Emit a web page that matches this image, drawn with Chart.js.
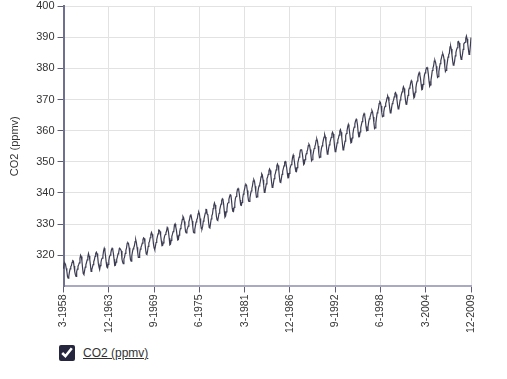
<!DOCTYPE html>
<html>
<head>
<meta charset="utf-8">
<script src="https://cdn.jsdelivr.net/npm/chart.js@4.4.1/dist/chart.umd.min.js"></script>
<style>
  html, body { margin: 0; padding: 0; background: #fff; }
  body { width: 507px; height: 379px; overflow: hidden; font-family: "Liberation Sans", Arial, sans-serif; }
  .chart__container { position: relative; width: 507px; height: 335px; }
  .legend { position: absolute; left: 59px; top: 345px; display: flex; align-items: center; }
  .legend input { width: 16px; height: 16px; margin: 0 8px 0 0; accent-color: #26263f; }
  .legend label { font-size: 12px; color: #333; text-decoration: underline; cursor: pointer; }
</style>
</head>
<body>
<div class="chart__container">
  <canvas id="co2Chart"></canvas>
</div>
<div class="legend">
  <input type="checkbox" id="co2Toggle" checked>
  <label for="co2Toggle">CO2 (ppmv)</label>
</div>
<script>
// Mauna Loa monthly CO2, 3-1958 .. 12-2009 (one row per year)
const startYear = 1958;
const startMonth = 3;
const seriesName = 'CO2 (ppmv)';
const co2 = [
  315.71, 317.45, 317.50, 317.10, 315.86, 314.93, 313.20, 312.66, 313.33, 314.67,
  315.62, 316.38, 316.71, 317.72, 318.29, 318.15, 316.54, 314.80, 313.84, 313.26, 314.80, 315.58,
  316.43, 316.97, 317.58, 319.02, 320.03, 319.59, 318.18, 315.91, 314.16, 313.83, 315.00, 316.19,
  316.93, 317.70, 318.54, 319.48, 320.58, 319.77, 318.57, 316.79, 314.80, 315.38, 316.10, 317.01,
  317.94, 318.56, 319.68, 320.63, 321.01, 320.55, 319.58, 317.40, 316.26, 315.42, 316.69, 317.69,
  318.74, 319.08, 319.86, 321.39, 322.25, 321.47, 319.74, 317.77, 316.21, 315.99, 317.12, 318.31,
  319.57, 320.07, 320.73, 321.77, 322.25, 321.89, 320.44, 318.70, 316.70, 316.79, 317.79, 318.71,
  319.44, 320.44, 320.89, 322.13, 322.16, 321.87, 321.39, 318.81, 317.81, 317.30, 318.87, 319.42,
  320.62, 321.59, 322.39, 323.87, 324.01, 323.75, 322.39, 320.37, 318.64, 318.10, 319.79, 321.08,
  322.07, 322.50, 323.04, 324.42, 325.00, 324.09, 322.55, 320.92, 319.31, 319.31, 320.72, 321.96,
  322.57, 323.15, 323.89, 325.02, 325.57, 325.36, 324.14, 322.03, 320.41, 320.25, 321.31, 322.84,
  324.00, 324.42, 325.64, 326.66, 327.34, 326.76, 325.88, 323.67, 322.38, 321.78, 322.85, 324.11,
  325.03, 325.99, 326.87, 328.13, 328.07, 327.66, 326.35, 324.69, 323.10, 323.16, 323.98, 325.13,
  326.17, 326.68, 327.18, 327.78, 328.92, 328.57, 327.34, 325.46, 323.36, 323.57, 324.80, 326.01,
  326.77, 327.63, 327.75, 329.72, 330.07, 329.09, 328.05, 326.32, 324.93, 325.06, 326.50, 327.55,
  328.54, 329.56, 330.30, 331.50, 332.48, 332.07, 330.87, 329.31, 327.51, 327.18, 328.16, 328.64,
  329.35, 330.71, 331.48, 332.65, 333.16, 332.06, 330.99, 329.17, 327.41, 327.20, 328.33, 329.50,
  330.68, 331.41, 331.85, 333.29, 333.91, 333.40, 331.78, 329.88, 328.57, 328.46, 329.26, 330.97,
  331.60, 332.60, 333.57, 334.72, 334.68, 333.17, 332.96, 330.67, 328.97, 328.77, 330.18, 331.65,
  332.69, 333.23, 334.97, 336.03, 336.82, 336.13, 334.66, 332.47, 331.34, 331.17, 332.29, 333.50,
  334.58, 335.55, 336.40, 337.57, 338.14, 337.81, 336.35, 334.11, 332.24, 332.59, 333.92, 334.82,
  336.65, 336.86, 337.95, 338.83, 339.46, 339.30, 337.61, 335.21, 334.12, 334.03, 335.35, 336.69,
  338.33, 338.87, 339.93, 341.10, 341.43, 340.90, 339.50, 337.75, 336.08, 335.98, 336.95, 338.25,
  339.62, 340.42, 341.33, 342.53, 342.74, 342.43, 340.81, 338.86, 337.40, 337.30, 338.40, 339.63,
  340.63, 341.45, 342.39, 343.83, 344.28, 343.78, 342.19, 340.33, 338.63, 338.77, 340.06, 341.39,
  342.28, 342.77, 343.79, 345.14, 346.14, 345.75, 344.28, 342.46, 340.16, 340.37, 341.71, 342.92,
  344.57, 345.14, 345.96, 347.09, 347.72, 347.21, 345.55, 343.61, 341.75, 341.94, 343.32, 344.59,
  345.74, 346.39, 347.42, 348.74, 349.34, 348.80, 347.29, 345.07, 343.48, 343.35, 344.67, 345.94,
  346.98, 347.80, 348.67, 349.93, 350.10, 349.52, 348.18, 346.38, 344.87, 344.92, 346.27, 347.74,
  348.53, 349.09, 349.81, 351.39, 352.16, 351.30, 349.77, 348.14, 346.90, 346.84, 348.16, 349.59,
  350.51, 351.51, 352.49, 353.78, 353.92, 353.78, 352.54, 350.74, 349.12, 349.38, 350.69, 351.86,
  352.64, 353.31, 353.89, 355.17, 355.67, 355.28, 353.93, 352.13, 350.34, 350.66, 352.09, 353.28,
  354.28, 354.92, 355.59, 356.90, 357.31, 356.62, 355.06, 352.84, 351.34, 351.50, 352.79, 354.21,
  355.14, 355.91, 357.01, 357.91, 358.69, 357.98, 356.37, 354.29, 352.47, 352.82, 354.31, 355.44,
  356.23, 357.03, 357.86, 358.95, 359.52, 358.95, 357.39, 355.04, 353.24, 353.47, 354.70, 356.09,
  356.94, 357.64, 358.54, 359.82, 360.31, 359.51, 357.90, 355.87, 353.86, 354.15, 355.34, 356.63,
  358.38, 359.08, 359.92, 361.23, 361.97, 361.07, 359.40, 357.54, 356.08, 356.23, 357.65, 358.97,
  360.41, 361.12, 362.17, 363.15, 363.63, 363.15, 361.88, 359.49, 358.01, 358.04, 359.61, 361.00,
  361.95, 362.89, 363.82, 364.98, 365.47, 364.95, 363.49, 361.31, 359.97, 360.07, 361.23, 362.73,
  363.75, 364.29, 364.96, 365.82, 366.51, 366.04, 364.41, 362.50, 360.64, 360.88, 362.51, 364.20,
  365.72, 366.26, 367.18, 368.65, 369.28, 369.02, 367.91, 365.80, 364.47, 364.64, 365.96, 367.21,
  367.82, 368.73, 369.40, 370.49, 371.15, 370.68, 369.26, 367.41, 365.71, 365.79, 367.39, 368.65,
  369.24, 369.78, 370.82, 371.96, 372.25, 371.63, 370.16, 368.44, 366.96, 367.15, 368.35, 369.83,
  370.66, 371.69, 372.47, 373.24, 374.11, 373.55, 371.87, 369.98, 368.48, 368.44, 370.04, 371.32,
  372.93, 373.66, 374.15, 375.25, 376.04, 375.62, 374.25, 372.03, 370.52, 370.81, 372.34, 373.75,
  375.14, 375.93, 377.01, 378.08, 378.65, 377.98, 376.77, 374.88, 373.11, 373.23, 374.86, 376.13,
  377.79, 378.55, 379.28, 380.08, 380.28, 379.73, 378.04, 375.88, 374.29, 374.66, 376.17, 377.64,
  379.30, 380.08, 380.75, 382.33, 382.57, 381.93, 380.68, 378.54, 377.08, 377.34, 378.95, 380.26,
  381.52, 382.45, 383.36, 384.31, 384.68, 384.06, 382.87, 380.78, 378.98, 379.36, 380.64, 382.09,
  383.57, 384.37, 384.83, 386.86, 387.11, 386.18, 384.31, 382.48, 380.98, 381.20, 382.34, 384.02,
  385.05, 385.97, 386.60, 388.48, 388.65, 388.09, 386.47, 383.96, 382.85, 383.26, 384.49, 386.05,
  387.84, 388.13, 388.37, 389.56, 390.38, 389.47, 387.90, 386.17, 384.47, 384.75, 387.20, 389.90
];

// "month-year" category labels, one per value
const monthLabels = co2.map((_, i) => {
  const m = (startMonth - 1 + i) % 12 + 1;
  const y = startYear + Math.floor((startMonth - 1 + i) / 12);
  return m + '-' + y;
});
const labelEvery = 69;
const yMin = 310, yMax = 400, yStep = 10;

const tickFont = { family: '"Liberation Sans", Arial, sans-serif', size: 11, lineHeight: 1 };

const chart = new Chart(document.getElementById('co2Chart'), {
  type: 'line',
  data: {
    labels: monthLabels,
    datasets: [{
      label: seriesName,
      data: co2,
      borderColor: '#3b3b52',
      borderWidth: 1.2,
      pointRadius: 0,
      tension: 0,
      fill: false,
    }],
  },
  options: {
    responsive: true,
    maintainAspectRatio: false,
    animation: false,
    layout: { padding: { left: 4, right: 36, top: 6, bottom: 0 } },
    plugins: {
      legend: { display: false },
      tooltip: { enabled: false },
    },
    scales: {
      x: {
        type: 'category',
        offset: false,
        border: { color: '#a9a9c2', width: 2 },
        grid: {
          color: (ctx) => ctx.index % labelEvery === 0 ? '#e2e2e2' : 'rgba(0,0,0,0)',
          tickColor: (ctx) => ctx.index % labelEvery === 0 ? '#5d5d78' : 'rgba(0,0,0,0)',
          tickLength: 6,
        },
        ticks: {
          autoSkip: false,
          minRotation: 90,
          maxRotation: 90,
          padding: 2,
          color: '#333',
          font: { ...tickFont, size: 10.5 },
          callback: (v, i) => i % labelEvery === 0 ? monthLabels[i] : '',
        },
      },
      y: {
        min: yMin,
        max: yMax,
        afterBuildTicks: (scale) => {
          scale.ticks = scale.ticks.filter(t => t.value !== yMin);
        },
        border: { color: '#6f6f8f', width: 2 },
        grid: { color: '#e2e2e2', tickColor: '#5d5d78', tickLength: 6 },
        ticks: { stepSize: yStep, padding: 3, color: '#333', font: { ...tickFont, lineHeight: 0.5 } },
        title: {
          display: true,
          text: seriesName,
          color: '#333',
          font: { ...tickFont, lineHeight: 1.2 },
          padding: { top: 4, bottom: 12 },
        },
      },
    },
  },
});

document.getElementById('co2Toggle').addEventListener('change', (e) => {
  chart.setDatasetVisibility(0, e.target.checked);
  chart.update();
});
</script>
</body>
</html>
